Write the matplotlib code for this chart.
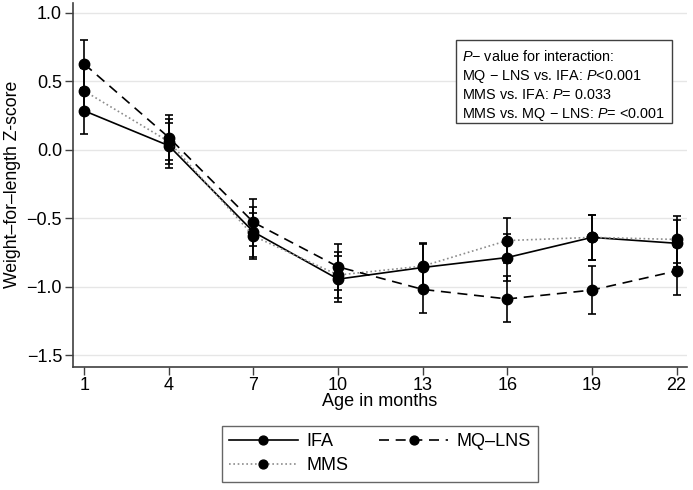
"""
Weight-for-length Z-score by age in months for the IFA, MQ-LNS and MMS groups.
"""
import matplotlib
matplotlib.use("Agg")
import matplotlib.pyplot as plt
from matplotlib.patches import Rectangle

MONTHS = [1, 4, 7, 10, 13, 16, 19, 22]

IFA_MEAN = [0.285, 0.03, -0.60, -0.945, -0.86, -0.787, -0.64, -0.683]
IFA_ERR = [0.17, 0.165, 0.18, 0.17, 0.17, 0.17, 0.165, 0.17]

MQ_LNS_MEAN = [0.627, 0.09, -0.53, -0.855, -1.02, -1.09, -1.025, -0.885]
MQ_LNS_ERR = [0.175, 0.165, 0.17, 0.17, 0.175, 0.17, 0.175, 0.175]

MMS_MEAN = [0.43, 0.06, -0.63, -0.915, -0.85, -0.663, -0.64, -0.655]
MMS_ERR = [0.17, 0.165, 0.17, 0.17, 0.17, 0.165, 0.165, 0.17]

Y_TICKS = [-1.5, -1.0, -0.5, 0.0, 0.5, 1.0]

P_LINES = [
    r"$\mathit{P}$" + "\u2212 value for interaction:",
    "MQ \u2212 LNS vs. IFA: " + r"$\mathit{P}$" + "<0.001",
    "MMS vs. IFA: " + r"$\mathit{P}$" + "= 0.033",
    "MMS vs. MQ \u2212 LNS: " + r"$\mathit{P}$" + "= <0.001",
]

plt.rcParams['font.family'] = ['Liberation Sans', 'DejaVu Sans']
plt.rcParams['mathtext.fontset'] = 'custom'
plt.rcParams['mathtext.rm'] = 'Liberation Sans'
plt.rcParams['mathtext.it'] = 'Liberation Sans:italic'

W, H = 693, 490
AXIS_COLOR = '#404040'
FONT_SIZE = 13


def fig_xy(x, y):
    """pixel position (from top left) -> figure fraction"""
    return x / W, 1 - y / H


fig = plt.figure(figsize=(W / 100, H / 100), dpi=100)
left, right, top, bottom = 72.7, 686.7, 3, 366.7
ax = fig.add_axes([left / W, 1 - bottom / H, (right - left) / W,
                   (bottom - top) / H])

series = [
    ('IFA', IFA_MEAN, IFA_ERR, dict(color='black', ls='-')),
    ('MMS', MMS_MEAN, MMS_ERR, dict(color='#8c8c8c', ls=(0, (1, 1.6)))),
    ('MQ\u2013LNS', MQ_LNS_MEAN, MQ_LNS_ERR,
     dict(color='black', ls=(0, (6, 4)))),
]

handles = []
for label, mean, err, style in series:
    ax.errorbar(MONTHS, mean, yerr=err, fmt='none', ecolor='black',
                elinewidth=1.2, capsize=3, capthick=1.2, zorder=3)
    line, = ax.plot(MONTHS, mean, lw=1.2, marker='o', ms=7.5,
                    mfc='black', mec='black', label=label, zorder=4,
                    **style)
    handles.append(line)

ax.set_xlim(0.59, 22.36)
ax.set_ylim(-1.585, 1.073)
ax.set_xticks(MONTHS)
ax.set_yticks(Y_TICKS)
ax.set_yticklabels([f"{v:.1f}".replace('-', '\u2212') for v in Y_TICKS])

ax.yaxis.grid(True, color='#e6e6e6', lw=1)
ax.set_axisbelow(True)
for side in ('top', 'right'):
    ax.spines[side].set_visible(False)
for side in ('left', 'bottom'):
    ax.spines[side].set_color(AXIS_COLOR)
    ax.spines[side].set_linewidth(1.2)
ax.tick_params(direction='out', length=5.5, width=1, color=AXIS_COLOR,
               labelsize=FONT_SIZE, labelcolor='black', pad=2.2)

ax.set_xlabel('Age in months', fontsize=FONT_SIZE, labelpad=-1)
ax.set_ylabel('Weight\u2013for\u2013length Z-score', fontsize=FONT_SIZE - 0.3,
              labelpad=4)

# p-value box in the upper right
x0, y0 = fig_xy(456, 123.3)
x1, y1 = fig_xy(671.7, 40)
fig.add_artist(Rectangle((x0, y0), x1 - x0, y1 - y0,
                         transform=fig.transFigure, fill=True,
                         facecolor='white', edgecolor=AXIS_COLOR, lw=1,
                         zorder=5))
for i, txt in enumerate(P_LINES):
    tx, ty = fig_xy(461.5, 61 + i * 19)
    fig.text(tx, ty, txt, fontsize=10.4, va='baseline', ha='left',
             zorder=6)

legend = fig.legend(handles=handles, loc='upper center', ncol=2,
                    bbox_to_anchor=fig_xy(380, 426), borderaxespad=0,
                    fontsize=FONT_SIZE, numpoints=1, handlelength=3.8,
                    handletextpad=0.5, columnspacing=1.7, fancybox=False,
                    frameon=True, edgecolor=AXIS_COLOR, borderpad=0.4,
                    labelspacing=0.4, markerscale=0.85)
legend.get_frame().set_linewidth(1)

fig.savefig('out.png', dpi=100)
